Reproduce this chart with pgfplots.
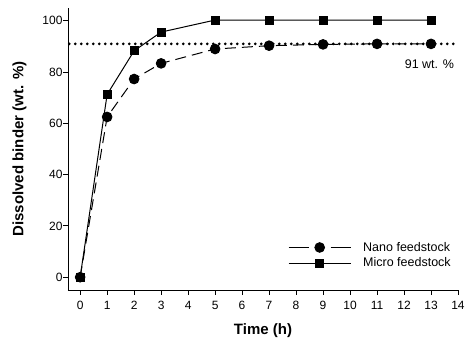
\documentclass[border=0pt]{standalone}
\usepackage{fontspec}
\setmainfont{Liberation Sans}
\usepackage{pgfplots}
\pgfplotsset{compat=1.18}
\begin{document}
\begin{tikzpicture}
\useasboundingbox (-68pt,-60pt) rectangle (404pt,290pt);
\begin{axis}[
  scale only axis,
  width=390pt, height=282pt,
  xmin=-0.45, xmax=14, ymin=-5, ymax=105,
  axis x line*=bottom, axis y line*=left,
  axis line style={line width=0.9pt, -},
  tick align=outside, major tick length=5pt,
  tick style={line width=0.9pt, black},
  xtick={0,1,...,14}, ytick={0,20,...,100},
  /pgf/number format/assume math mode=true,
  ticklabel style={font=\fontsize{12}{14}\selectfont},
  xticklabel style={yshift=-3pt},
  yticklabel style={xshift=3pt},
  xlabel={\bfseries Time (h)},
  ylabel={\bfseries Dissolved binder (wt. \%)},
  label style={font=\fontsize{15}{17}\selectfont},
  xlabel style={yshift=-7pt},
  ylabel style={yshift=9pt},
  clip=false,
  legend style={draw=none, fill=none, at={(217pt,52pt)}, anchor=north west,
    font=\fontsize{12.5}{14}\selectfont, row sep=1pt},
  legend cell align=left,
]
\addlegendimage{black, line width=1pt,
  legend image code/.code={
    \draw[black, line width=1pt] (0pt,0pt) -- (20pt,0pt);
    \draw[black, line width=1pt] (42pt,0pt) -- (62pt,0pt);
    \fill[black] (31pt,0pt) circle (4.8pt);
    \path (72pt,0pt);}}
\addlegendentry{Nano feedstock}
\addlegendimage{black, line width=1pt,
  legend image code/.code={
    \draw[black, line width=1pt] (0pt,0pt) -- (62pt,0pt);
    \fill[black] (27pt,-4pt) rectangle (35pt,4pt);
    \path (72pt,0pt);}}
\addlegendentry{Micro feedstock}

\addplot[forget plot, black, line width=1pt, mark=square*, mark size=4pt, mark options={solid}]
  coordinates {(0,0)(1,71.3)(2,88.3)(3,95.6)(5,100.3)(7,100.3)(9,100.3)(11,100.3)(13,100.3)};
\addplot[forget plot, black, line width=1pt, dash pattern=on 11pt off 6pt, mark=*, mark size=4.8pt, mark options={solid}]
  coordinates {(0,0)(1,62.5)(2,77.3)(3,83.4)(5,89.0)(7,90.3)(9,90.8)(11,91.0)(13,91.0)};
\addplot[forget plot, black, line width=3pt, line cap=round, dash pattern=on 0pt off 6pt]
  coordinates {(-0.4,91)(14,91)};
\node[anchor=east, font=\fontsize{12.5}{14}\selectfont] at (axis cs:13.98,83.2) {91 wt. \%};
\end{axis}
\end{tikzpicture}
\end{document}
